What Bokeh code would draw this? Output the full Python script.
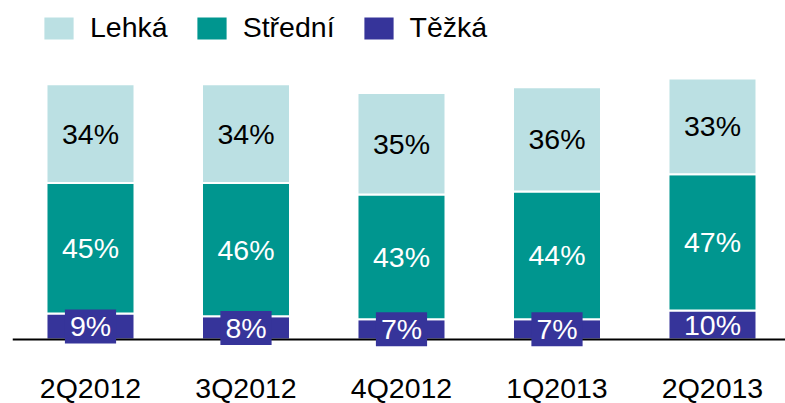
from bokeh.plotting import figure
from bokeh.models import (ColumnDataSource, Range1d, FixedTicker, Legend, LegendItem,
                          LinearAxis)
from bokeh.core.properties import value
from bokeh.embed import file_html
from bokeh.resources import INLINE

# ---- data ----
categories = ["2Q2012", "3Q2012", "4Q2012", "1Q2013", "2Q2013"]
tezka = [9, 8, 7, 7, 10]
stredni = [45, 46, 43, 44, 47]
lehka = [34, 34, 35, 36, 33]
series_names = ["Lehká", "Střední", "Těžká"]

# ---- style ----
C_LEHKA = "#BBE0E3"
C_STREDNI = "#00968F"
C_TEZKA = "#36349A"
FONT = "Liberation Sans"
FS = "28.5px"

xs = list(range(len(categories)))
mid = [t + s for t, s in zip(tezka, stredni)]
source = ColumnDataSource(dict(
    x=xs, cat=categories,
    tezka=tezka, stredni=stredni, lehka=lehka,
    y_t=[t / 2 for t in tezka],
    y_s=[t + s / 2 for t, s in zip(tezka, stredni)],
    y_l=[m + l / 2 for m, l in zip(mid, lehka)],
    lab_t=[f"{v}%" for v in tezka],
    lab_s=[f"{v}%" for v in stredni],
    lab_l=[f"{v}%" for v in lehka],
    bg_alpha=[1 if v < 10 else 0 for v in tezka],
))

p = figure(width=785, height=403, output_backend="svg", toolbar_location=None,
           x_range=Range1d(-0.5016, 4.4695), y_range=Range1d(-22.07, 116.9),
           x_axis_location=None, y_axis_location=None,
           min_border_left=12, min_border_right=0, min_border_top=0, min_border_bottom=0)
p.outline_line_color = None
p.xgrid.visible = False
p.ygrid.visible = False
p.background_fill_color = "white"

rs = p.vbar_stack(["tezka", "stredni", "lehka"], x="x", width=0.566, source=source,
                  color=[C_TEZKA, C_STREDNI, C_LEHKA], line_color="white", line_width=2)

axis = LinearAxis(fixed_location=0, ticker=FixedTicker(ticks=xs),
                  major_label_overrides={i: c for i, c in zip(xs, categories)},
                  axis_line_color="black", axis_line_width=2,
                  major_tick_line_color=None, minor_tick_line_color=None,
                  major_tick_out=0, major_tick_in=0,
                  major_label_standoff=33,
                  major_label_text_font=FONT, major_label_text_font_size=FS,
                  major_label_text_color="black")
p.add_layout(axis, "below")

p.text(x="x", y="y_l", text="lab_l", source=source, text_align="center",
       text_baseline="middle", text_font=value(FONT), text_font_size=FS,
       text_color="black")
p.text(x="x", y="y_s", text="lab_s", source=source, text_align="center",
       text_baseline="middle", text_font=value(FONT), text_font_size=FS,
       text_color="white")
p.text(x="x", y="y_t", text="lab_t", source=source, text_align="center",
       text_baseline="middle", text_font=value(FONT), text_font_size=FS,
       text_color="white", background_fill_color=C_TEZKA,
       background_fill_alpha="bg_alpha",
       padding=dict(left=5, right=5, top=1, bottom=1), level="overlay")

legend = Legend(items=[LegendItem(label=series_names[0], renderers=[rs[2]]),
                       LegendItem(label=series_names[1], renderers=[rs[1]]),
                       LegendItem(label=series_names[2], renderers=[rs[0]])],
                location=(27, 359), orientation="horizontal",
                glyph_width=39, glyph_height=30, label_height=30,
                label_standoff=12, spacing=24, padding=0, margin=0,
                border_line_alpha=0, background_fill_alpha=0,
                label_text_font=FONT, label_text_font_size=FS,
                label_text_color="black")
p.add_layout(legend)

open("out.html", "w").write(file_html(p, INLINE))
